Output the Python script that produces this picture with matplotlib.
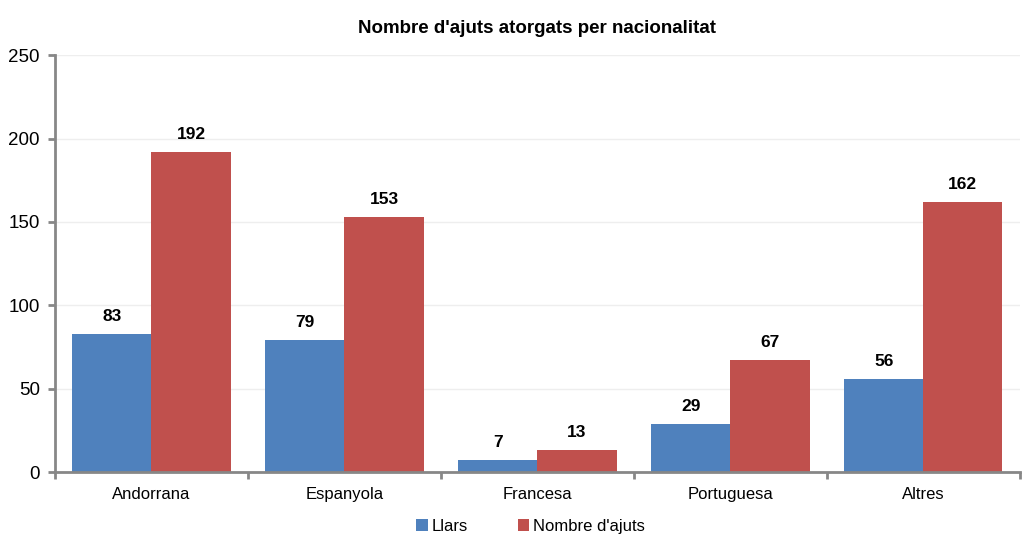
import numpy as np
import matplotlib.pyplot as plt

plt.rcParams['font.family'] = ['Liberation Sans', 'DejaVu Sans']

# ----- Data -----
categories = ["Andorrana", "Espanyola", "Francesa", "Portuguesa", "Altres"]
llars = [83, 79, 7, 29, 56]
ajuts = [192, 153, 13, 67, 162]

blue = "#4F81BD"
red = "#C0504D"
grey = "#878787"

fig = plt.figure(figsize=(10.26, 5.36), dpi=100)
ax = fig.add_axes([0.0536, 0.1194, 0.9404, 0.7776])

x = np.arange(len(categories))
w = 0.41
b1 = ax.bar(x - w / 2, llars, w, color=blue, label="Llars")
b2 = ax.bar(x + w / 2, ajuts, w, color=red, label="Nombre d'ajuts")

for bars in (b1, b2):
    for r in bars:
        ax.text(r.get_x() + r.get_width() / 2, r.get_height() + 6, f"{int(r.get_height())}",
                ha="center", va="bottom", fontsize=12.5, fontweight="bold")

ax.set_xlim(-0.5, len(categories) - 0.5)
ax.set_ylim(0, 250)
ax.set_yticks(np.arange(0, 251, 50))
ax.yaxis.grid(True, color="#EEEEEE", linewidth=1)
ax.set_axisbelow(True)

ax.set_xticks(x)
ax.set_xticklabels(categories, fontsize=12)
ax.set_xticks(np.arange(-0.5, len(categories), 1.0), minor=True)
ax.tick_params(axis="x", which="major", length=0, pad=11)
ax.tick_params(axis="x", which="minor", length=5, width=2, color=grey)
ax.tick_params(axis="y", length=5, width=2, color=grey, labelsize=13.5, pad=6)

for s in ("top", "right"):
    ax.spines[s].set_visible(False)
for s in ("left", "bottom"):
    ax.spines[s].set_color(grey)
    ax.spines[s].set_linewidth(2)

ax.set_title("Nombre d'ajuts atorgats per nacionalitat", fontsize=13.5, fontweight="bold", pad=16)

fig.legend(loc="lower center", bbox_to_anchor=(0.517, -0.024), ncol=2, frameon=False,
           fontsize=12, handlelength=0.7, handleheight=0.7, handletextpad=0.2, columnspacing=3.0)

fig.savefig("out.png", dpi=100)
